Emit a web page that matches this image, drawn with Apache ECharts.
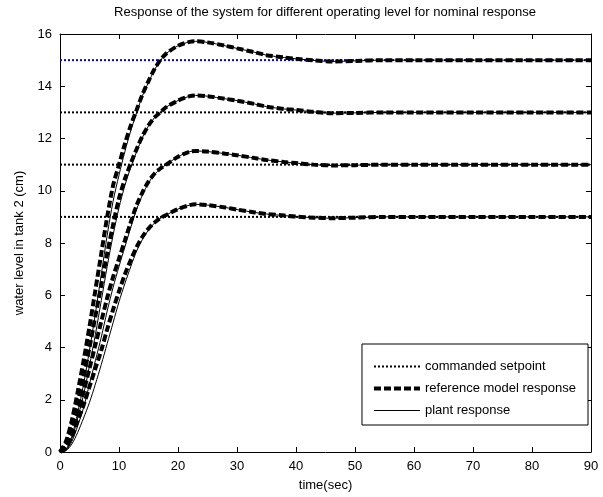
<!DOCTYPE html>
<html>
<head>
<meta charset="utf-8">
<script src="https://cdn.jsdelivr.net/npm/echarts@6/dist/echarts.min.js"></script>
<style>
  html, body { margin: 0; padding: 0; background: #fff; }
  #chart { width: 603px; height: 497px; }
</style>
</head>
<body>
<div id="chart"></div>
<script>
// time samples (sec)
const time = [0, 1, 2, 3, 4, 5, 6, 7, 8, 9, 10, 11, 12, 13, 14, 15, 16, 17, 18,
  20, 22, 23, 25, 28, 30, 33, 35, 38, 40, 43, 46, 50, 55, 60, 70, 80, 90]

const setpoints = [9, 11, 13, 15]
const xTicks = [0, 90, 10]
const yTicks = [0, 16, 2]

// reference model response, one array per operating level
const ref9 = [0, 0.2, 0.6, 1.2, 1.8, 2.5, 3.2, 3.9, 4.7, 5.45, 6.15, 6.8, 7.35, 7.85, 8.25, 8.55, 8.78, 8.95, 9.07,
  9.3, 9.45, 9.48, 9.45, 9.36, 9.28, 9.17, 9.11, 9.05, 9.01, 8.97, 8.95, 8.97, 9.0, 9, 9, 9, 9]
const ref11 = [0, 0.25, 0.8, 1.5, 2.3, 3.2, 4.1, 5.0, 5.9, 6.7, 7.4, 8.1, 8.8, 9.45, 9.95, 10.35, 10.65, 10.85, 11.0,
  11.3, 11.5, 11.52, 11.5, 11.42, 11.36, 11.25, 11.18, 11.1, 11.06, 11.0, 10.97, 10.98, 11.0, 11, 11, 11, 11]
const ref13 = [0, 0.3, 1.0, 1.9, 2.9, 4.0, 5.2, 6.4, 7.6, 8.7, 9.7, 10.45, 11.05, 11.6, 12.1, 12.5, 12.8, 13.0, 13.2,
  13.45, 13.62, 13.65, 13.62, 13.52, 13.45, 13.32, 13.22, 13.13, 13.09, 13.02, 12.97, 12.98, 13.0, 13, 13, 13, 13]
const ref15 = [0, 0.4, 1.2, 2.3, 3.5, 4.8, 6.2, 7.6, 9.0, 10.2, 11.0, 11.8, 12.5, 13.1, 13.7, 14.2, 14.65, 15.0, 15.25,
  15.55, 15.7, 15.72, 15.68, 15.55, 15.45, 15.3, 15.19, 15.1, 15.05, 14.99, 14.95, 14.97, 15.0, 15, 15, 15, 15]

// plant response
const plant9 = [0, 0.05, 0.3, 0.75, 1.3, 1.9, 2.6, 3.35, 4.15, 4.95, 5.75, 6.45, 7.1, 7.7, 8.15, 8.5, 8.76, 8.94, 9.07,
  9.3, 9.45, 9.48, 9.45, 9.36, 9.28, 9.17, 9.11, 9.05, 9.01, 8.97, 8.95, 8.97, 9.0, 9, 9, 9, 9]
const plant11 = [0, 0.06, 0.4, 1.0, 1.7, 2.6, 3.5, 4.4, 5.4, 6.3, 7.1, 7.85, 8.6, 9.3, 9.85, 10.3, 10.62, 10.84, 11.0,
  11.3, 11.5, 11.52, 11.5, 11.42, 11.36, 11.25, 11.18, 11.1, 11.06, 11.0, 10.97, 10.98, 11.0, 11, 11, 11, 11]
const plant13 = [0, 0.08, 0.5, 1.3, 2.2, 3.3, 4.5, 5.8, 7.1, 8.3, 9.35, 10.2, 10.9, 11.5, 12.05, 12.48, 12.79, 13.0, 13.2,
  13.45, 13.62, 13.65, 13.62, 13.52, 13.45, 13.32, 13.22, 13.13, 13.09, 13.02, 12.97, 12.98, 13.0, 13, 13, 13, 13]
const plant15 = [0, 0.1, 0.6, 1.5, 2.6, 3.9, 5.3, 6.8, 8.3, 9.6, 10.6, 11.5, 12.3, 13.0, 13.65, 14.15, 14.62, 14.98, 15.25,
  15.55, 15.7, 15.72, 15.68, 15.55, 15.45, 15.3, 15.19, 15.1, 15.05, 14.99, 14.95, 14.97, 15.0, 15, 15, 15, 15]

const refs = [ref9, ref11, ref13, ref15]
const plants = [plant9, plant11, plant13, plant15]

const font = 'Arial, "Liberation Sans", sans-serif'
const setStyle = { color: '#000', width: 2, type: [2, 2] }
const refStyle = { color: '#000', width: 4, type: [7, 3], cap: 'butt' }
const plantStyle = { color: '#000', width: 1, type: 'solid' }
const noDot = { opacity: 0 }

const pairs = ys => time.map((t, i) => [t, ys[i]])

const series = []
setpoints.forEach((sp, i) => {
  series.push({
    name: 'commanded setpoint',
    type: 'line',
    symbol: 'none',
    silent: true,
    itemStyle: { color: '#000' },
    lineStyle: Object.assign({}, setStyle, i === 3 ? { color: '#0000ff' } : {}),
    data: [[xTicks[0], sp], [xTicks[1], sp]],
    z: 2
  })
})
refs.forEach(r => {
  series.push({
    name: 'reference model response',
    type: 'line',
    symbol: 'none',
    smooth: 0.3,
    itemStyle: { color: '#000' },
    lineStyle: refStyle,
    data: pairs(r),
    z: 3
  })
})
plants.forEach(p => {
  series.push({
    name: 'plant response',
    type: 'line',
    symbol: 'none',
    smooth: 0.3,
    itemStyle: { color: '#000' },
    lineStyle: plantStyle,
    data: pairs(p),
    z: 4
  })
})

const axisCommon = {
  type: 'value',
  axisLine: { show: true, onZero: false, lineStyle: { color: '#000', width: 1 } },
  axisTick: { show: true, inside: true, length: 5, lineStyle: { color: '#000' } },
  splitLine: { show: false },
  axisLabel: { color: '#000', fontSize: 13, fontFamily: font }
}

const chart = echarts.init(document.getElementById('chart'))
chart.setOption({
  animation: false,
  backgroundColor: '#fff',
  grid: { left: 60, right: 12, top: 34, bottom: 44 },
  graphic: [{
    type: 'text',
    x: 325,
    y: 12,
    style: {
      text: 'Response of the system for different operating level for nominal response',
      align: 'center',
      verticalAlign: 'middle',
      fontSize: 13,
      fontFamily: font,
      fill: '#000'
    }
  }],
  legend: {
    orient: 'vertical',
    right: 15,
    top: 344,
    padding: [16, 12, 8, 10],
    itemWidth: 46,
    itemHeight: 12,
    itemGap: 9,
    backgroundColor: '#fff',
    borderColor: '#000',
    borderWidth: 1,
    borderRadius: 0,
    textStyle: { color: '#000', fontSize: 13, fontFamily: font },
    data: [
      { name: 'commanded setpoint', lineStyle: setStyle, itemStyle: noDot },
      { name: 'reference model response', lineStyle: refStyle, itemStyle: noDot },
      { name: 'plant response', lineStyle: plantStyle, itemStyle: noDot }
    ]
  },
  xAxis: [
    Object.assign({}, axisCommon, {
      min: xTicks[0], max: xTicks[1], interval: xTicks[2],
      position: 'bottom',
      name: 'time(sec)',
      nameLocation: 'middle',
      nameGap: 27,
      nameTextStyle: { color: '#000', fontSize: 13, fontFamily: font }
    }),
    Object.assign({}, axisCommon, {
      min: xTicks[0], max: xTicks[1], interval: xTicks[2],
      position: 'top',
      axisLabel: { show: false }
    })
  ],
  yAxis: [
    Object.assign({}, axisCommon, {
      min: yTicks[0], max: yTicks[1], interval: yTicks[2],
      position: 'left',
      name: 'water level in tank 2 (cm)',
      nameLocation: 'middle',
      nameGap: 34,
      nameTextStyle: { color: '#000', fontSize: 13, fontFamily: font }
    }),
    Object.assign({}, axisCommon, {
      min: yTicks[0], max: yTicks[1], interval: yTicks[2],
      position: 'right',
      axisLabel: { show: false }
    })
  ],
  series: series
})
</script>
</body>
</html>
